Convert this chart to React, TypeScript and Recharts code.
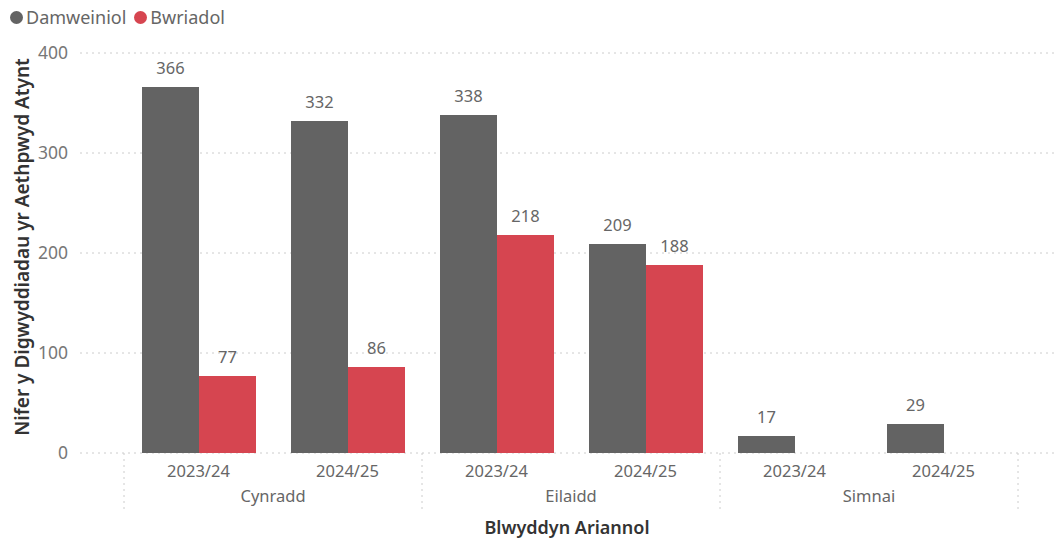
import { Bar, BarChart, CartesianGrid, LabelList, Legend, XAxis, YAxis } from "recharts";

const years = ["2023/24", "2024/25", "2023/24", "2024/25", "2023/24", "2024/25"];
const groups = ["Cynradd", "Cynradd", "Eilaidd", "Eilaidd", "Simnai", "Simnai"];
const damweiniol = [366, 332, 338, 209, 17, 29];
const bwriadol: (number | null)[] = [77, 86, 218, 188, null, null];
const yTicks = [0, 100, 200, 300, 400];

const data = years.map((year, i) => ({
  key: i,
  year,
  group: groups[i],
  Damweiniol: damweiniol[i],
  Bwriadol: bwriadol[i],
}));

const FONT = "'Segoe UI', 'Noto Sans', sans-serif";
const GREY = "#636363";
const RED = "#D64550";
const HALF_BAND = 74.5;
const AXIS_Y = 453;

function YearTick(props: any) {
  const { x, index } = props;
  const d = data[index];
  const first = index === 0 || groups[index - 1] !== d.group;
  const last = index === data.length - 1;
  return (
    <g>
      <text x={x} y={AXIS_Y + 24} textAnchor="middle" fontSize={16.5} fill="#666" fontFamily={FONT}>
        {d.year}
      </text>
      {first && (
        <>
          <line x1={x - HALF_BAND} x2={x - HALF_BAND} y1={AXIS_Y} y2={AXIS_Y + 58} stroke="#ccc" strokeDasharray="2 4" />
          <text x={x + HALF_BAND} y={AXIS_Y + 49} textAnchor="middle" fontSize={16.5} fill="#666" fontFamily={FONT}>
            {d.group}
          </text>
        </>
      )}
      {last && (
        <line x1={x + HALF_BAND} x2={x + HALF_BAND} y1={AXIS_Y} y2={AXIS_Y + 58} stroke="#ccc" strokeDasharray="2 4" />
      )}
    </g>
  );
}

function ValueLabel(props: any) {
  const { x, y, width, value } = props;
  if (value == null || value === 0) return null;
  return (
    <text x={x + width / 2} y={y - 13} textAnchor="middle" fontSize={16.5} fill="#666" fontFamily={FONT}>
      {value}
    </text>
  );
}

function LegendContent() {
  const items = [
    { name: "Damweiniol", color: GREY },
    { name: "Bwriadol", color: RED },
  ];
  return (
    <div style={{ height: 53, display: "flex", alignItems: "flex-start", fontFamily: FONT, fontSize: 18, color: "#666" }}>
      {items.map((it) => (
        <div key={it.name} style={{ display: "flex", alignItems: "center", marginLeft: 10, marginRight: -2, marginTop: 5 }}>
          <span style={{ width: 13, height: 13, borderRadius: 7, background: it.color, display: "inline-block", marginRight: 3 }} />
          <span>{it.name}</span>
        </div>
      ))}
    </div>
  );
}

export default function App() {
  return (
    <div style={{ width: 1056, height: 540, background: "#fff" }}>
      <style>{"body{margin:0}"}</style>
      <BarChart
        width={1056}
        height={540}
        data={data}
        margin={{ top: 0, right: 1, bottom: 0, left: 0 }}
        barGap={0}
        barSize={57}
      >
        <Legend verticalAlign="top" align="left" content={<LegendContent />} wrapperStyle={{ top: 0, left: 0 }} />
        <CartesianGrid vertical={false} stroke="#ccc" strokeDasharray="2 4" />
        <XAxis
          dataKey="key"
          axisLine={false}
          tickLine={false}
          tick={<YearTick />}
          interval={0}
          padding={{ left: 44, right: 37 }}
          height={87}
        />
        <YAxis
          width={80}
          domain={[0, 400]}
          ticks={yTicks}
          axisLine={false}
          tickLine={false}
          tick={{ fontSize: 17.5, fill: "#777", fontFamily: FONT }}
          tickMargin={6}
        />
        <Bar dataKey="Damweiniol" fill={GREY} isAnimationActive={false}>
          <LabelList dataKey="Damweiniol" content={<ValueLabel />} />
        </Bar>
        <Bar dataKey="Bwriadol" fill={RED} isAnimationActive={false}>
          <LabelList dataKey="Bwriadol" content={<ValueLabel />} />
        </Bar>
        <text x={22} y={247} transform="rotate(-90 22 247)" textAnchor="middle" dominantBaseline="central" fontSize={19} fontWeight={600} fill="#333" fontFamily={FONT}>
          Nifer y Digwyddiadau yr Aethpwyd Atynt
        </text>
        <text x={567} y={527} textAnchor="middle" dominantBaseline="central" fontSize={18} fontWeight={600} fill="#333" fontFamily={FONT}>
          Blwyddyn Ariannol
        </text>
      </BarChart>
    </div>
  );
}
